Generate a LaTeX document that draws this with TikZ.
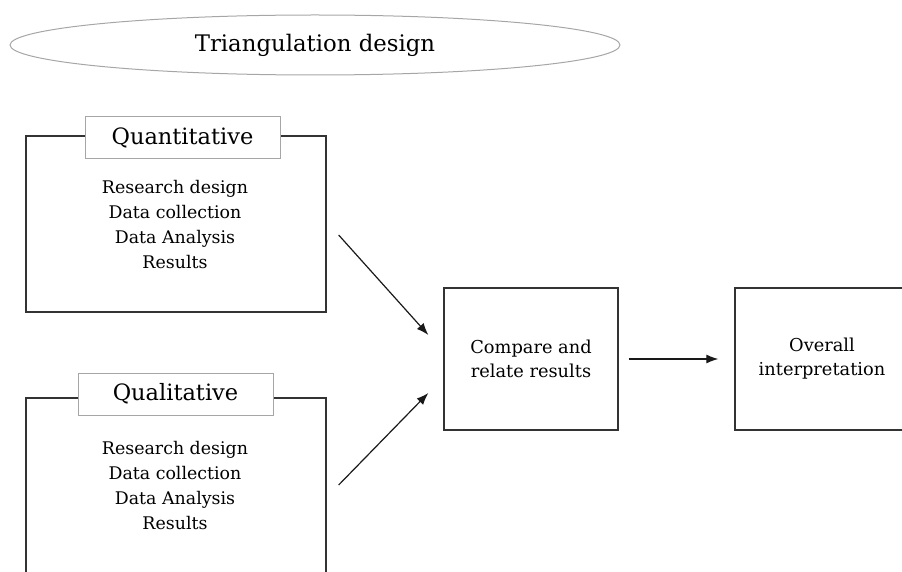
\documentclass[tikz,border=0pt]{standalone}
\usepackage{fontspec}
\setmainfont{DejaVu Serif}
\usetikzlibrary{shapes.geometric,arrows.meta,calc}
\tikzset{
  frame/.style={draw=black!80, line width=1.3pt, rectangle, inner sep=0pt},
  tagbox/.style={draw=black!35, line width=1pt, fill=white, rectangle,
    minimum width=195pt, minimum height=42pt, inner sep=0pt,
    font=\fontsize{22.5}{26}\selectfont},
  items/.style={align=center, font=\fontsize{17.4}{25}\selectfont, inner sep=0pt},
  boxtext/.style={align=center, font=\fontsize{17.8}{24}\selectfont},
  flow/.style={-{Latex[length=12pt,width=9pt]}, line width=1.2pt, black!90},
}
\begin{document}
\begin{tikzpicture}[x=1pt,y=-1pt]
  \useasboundingbox (0,0) rectangle (902,572);
  \clip (0,0) rectangle (902,572);

  % heading
  \node[ellipse, draw=black!35, line width=1pt, minimum width=610pt, minimum height=60pt,
        font=\fontsize{22.8}{26}\selectfont] (title) at (315,45) {Triangulation design};

  % quantitative strand
  \node[frame, minimum width=300pt, minimum height=176pt] (quant) at (176,224) {};
  \node[tagbox] (quanttag) at (182.5,138) {Quantitative};
  \node[items] (quantitems) at (175,225) {Research design\\Data collection\\Data Analysis\\Results};

  % qualitative strand (runs past the lower edge)
  \node[frame, minimum width=300pt, minimum height=240pt] (qual) at (176,518) {};
  \node[tagbox] (qualtag) at (175.5,394) {Qualitative};
  \node[items] (qualitems) at (175,486) {Research design\\Data collection\\Data Analysis\\Results};

  % merging and interpretation
  \node[frame, minimum width=174pt, minimum height=142pt, boxtext] (compare) at (531,359) {Compare and\\relate results};
  \node[frame, minimum width=174pt, minimum height=142pt, boxtext] (overall) at (822,359) {Overall\\interpretation};

  % arrow end points
  \coordinate (q1) at ($(quant.east)+(12,11)$);
  \coordinate (c1) at ($(compare.west)+(-15,-24)$);
  \coordinate (q2) at ($(quant.east)+(12,261)$);
  \coordinate (c2) at ($(compare.west)+(-15,34)$);

  \draw[flow] (q1) -- (c1);
  \draw[flow] (q2) -- (c2);
  \draw[flow, shorten <=10pt, shorten >=16pt] (compare.east) -- (overall.west);
\end{tikzpicture}
\end{document}
